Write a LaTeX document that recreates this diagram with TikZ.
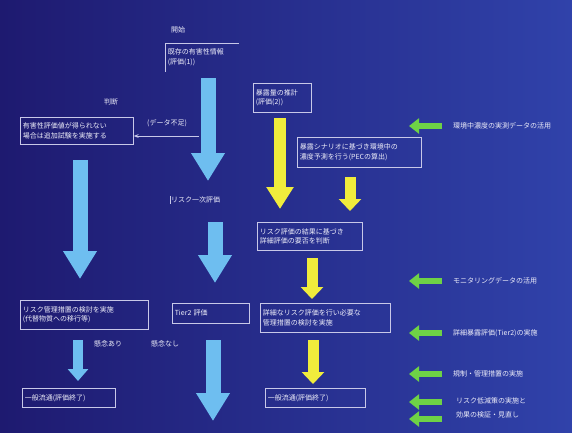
\documentclass[tikz,border=0pt]{standalone}
\usepackage{fontspec}
\setmainfont{Noto Sans CJK JP}
\usetikzlibrary{arrows.meta}
\definecolor{bgl}{RGB}{30,26,112}
\definecolor{bgr}{RGB}{48,66,170}
\definecolor{boxc}{RGB}{200,200,232}
\definecolor{txtc}{RGB}{238,238,250}
\definecolor{skyb}{RGB}{110,190,240}
\definecolor{yell}{RGB}{240,236,60}
\definecolor{grn}{RGB}{110,210,70}
\tikzset{
  box/.style n args={2}{draw=boxc, line width=0.6pt, text=txtc, anchor=north west,
    inner sep=2.5pt, minimum width=#1, minimum height=#2, text width=#1-5pt,
    align=left, font=\fontsize{7}{9.5}\selectfont},
  plain/.style={text=txtc, font=\fontsize{7}{9.5}\selectfont, align=left, inner sep=1pt},
  bluearr/.style={draw=skyb, line width=15pt, -{Triangle[length=28pt,width=32pt]}},
  bluearrs/.style={draw=skyb, line width=10pt, -{Triangle[length=12pt,width=20pt]}},
  yelarr/.style={draw=yell, line width=12pt, -{Triangle[length=22pt,width=26pt]}},
  yelarrs/.style={draw=yell, line width=11pt, -{Triangle[length=12pt,width=22pt]}},
  grnarr/.style={draw=grn, line width=6pt, -{Triangle[length=10pt,width=15pt]}},
  thinarr/.style={draw=boxc, line width=1pt, -{Stealth[length=5pt]}},
}
\begin{document}
\begin{tikzpicture}[x=1pt,y=-1pt]
\shade[left color=bgl, right color=bgr] (0,0) rectangle (572,432);
\useasboundingbox (0,0) rectangle (572,432);

% start label
\node[plain, anchor=west] (start) at (170,30) {開始};

% boxes
\node[box={73pt}{28pt}, draw=none] (b1) at (165,43) {既存の有害性情報\\(評価(1))};
\draw[boxc, line width=0.6pt] (b1.south west) -- (b1.north west) -- (b1.north east);
\node[box={58pt}{29pt}] (b2) at (253,83) {暴露量の推計\\(評価(2))};
\node[box={124pt}{30pt}] (b3) at (297,137) {暴露シナリオに基づき環境中の\\濃度予測を行う(PECの算出)};
\node[box={113pt}{27pt}] (bl1) at (20,117) {有害性評価値が得られない\\場合は追加試験を実施する};
\node[plain, anchor=west] (hantei) at (103,102) {判断};
\node[plain, anchor=west] (fusoku) at (146,123) {(データ不足)};

\node[plain, anchor=west] (b4) at (170,200) {リスク一次評価};
\draw[boxc, line width=0.6pt] (b4.north west) -- (b4.south west);

\node[box={105pt}{28pt}] (b5) at (257,222) {リスク評価の結果に基づき\\詳細評価の要否を判断};
\node[box={128pt}{29pt}] (bl2) at (20,300) {リスク管理措置の検討を実施\\(代替物質への移行等)};
\node[box={77pt}{20pt}] (b6) at (172,303) {Tier2 評価};
\node[box={130pt}{29pt}] (b7) at (260,303) {詳細なリスク評価を行い必要な\\管理措置の検討を実施};
\node[plain, anchor=west] (ken1) at (93,344) {懸念あり};
\node[plain, anchor=west] (ken2) at (150,344) {懸念なし};
\node[box={93pt}{19pt}] (bb1) at (22,388) {一般流通(評価終了)};
\node[box={100pt}{19pt}] (bb2) at (265,388) {一般流通(評価終了)};

% coordinates for block arrows
\coordinate (a1s) at (208,78);  \coordinate (a1e) at (208,181);
\coordinate (a2s) at (215,222); \coordinate (a2e) at (215,283);
\coordinate (a3s) at (80,160);  \coordinate (a3e) at (80,279);
\coordinate (a4s) at (78,340);  \coordinate (a4e) at (78,381);
\coordinate (a5s) at (213,340); \coordinate (a5e) at (213,421);
\coordinate (y1s) at (280,118); \coordinate (y1e) at (280,209);
\coordinate (y2s) at (350,177); \coordinate (y2e) at (350,211);
\coordinate (y3s) at (312,258); \coordinate (y3e) at (312,299);
\coordinate (y4s) at (313,340); \coordinate (y4e) at (313,384);

\draw[bluearr] (a1s) -- (a1e);
\draw[bluearr] (a2s) -- (a2e);
\draw[bluearr] (a3s) -- (a3e);
\draw[bluearrs] (a4s) -- (a4e);
\draw[bluearr] (a5s) -- (a5e);
\draw[yelarr] (y1s) -- (y1e);
\draw[yelarrs] (y2s) -- (y2e);
\draw[yelarrs] (y3s) -- (y3e);
\draw[yelarrs] (y4s) -- (y4e);

\coordinate (t1) at (199,136);
\draw[thinarr] (t1) -- (bl1.east |- t1);

% green arrows with labels
\foreach \y/\n/\t in {126/g1/環境中濃度の実測データの活用,
                      281/g2/モニタリングデータの活用,
                      333/g3/詳細暴露評価(Tier2)の実施,
                      374/g4/規制・管理措置の実施} {
  \coordinate (\n s) at (442,\y);
  \coordinate (\n e) at (409,\y);
  \draw[grnarr] (\n s) -- (\n e);
  \node[plain, anchor=west] (\n l) at (452,\y) {\t};
}
\coordinate (g5s) at (442,402); \coordinate (g5e) at (409,402);
\coordinate (g6s) at (442,419); \coordinate (g6e) at (409,419);
\draw[grnarr] (g5s) -- (g5e);
\draw[grnarr] (g6s) -- (g6e);
\node[plain, anchor=west] (g5l) at (455,401) {リスク低減策の実施と};
\node[plain, anchor=west] (g6l) at (455,415) {効果の検証・見直し};
\end{tikzpicture}
\end{document}
